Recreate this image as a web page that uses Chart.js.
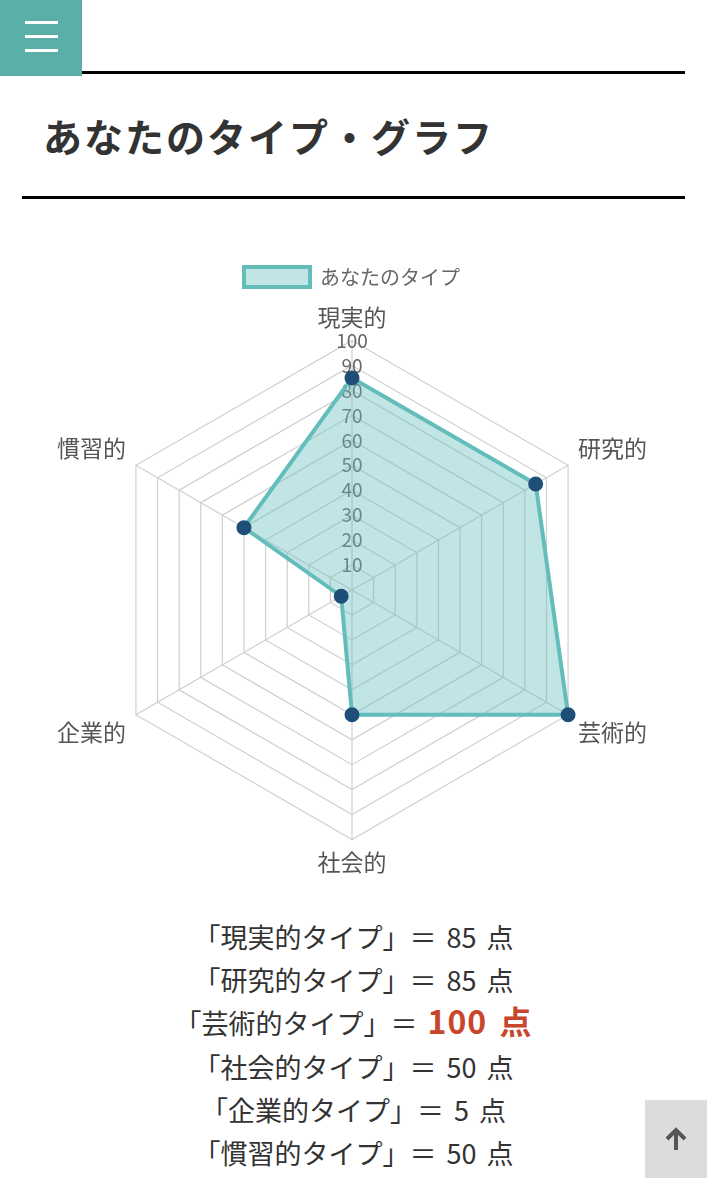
<!DOCTYPE html>
<html lang="ja">
  <head>
    <meta charset="UTF-8" />
    <title>あなたのタイプ・グラフ</title>
    <script src="https://cdn.jsdelivr.net/npm/chart.js@4.4.0/dist/chart.umd.min.js"></script>
    <style>
      body {
        margin: 0;
        width: 707px;
        height: 1200px;
        background: #fff;
        font-family: "Noto Sans CJK JP", sans-serif;
        color: #333;
        position: relative;
        overflow: hidden;
      }
      .menu {
        position: absolute;
        left: 0;
        top: 0;
        width: 82px;
        height: 76px;
        background: #5aafa9;
      }
      .menu span {
        position: absolute;
        left: 25px;
        width: 33px;
        height: 3px;
        background: #fff;
      }
      .rule {
        position: absolute;
        height: 3px;
        background: #000;
      }
      h1 {
        position: absolute;
        left: 43px;
        top: 108px;
        margin: 0;
        font-size: 39px;
        line-height: 54px;
        letter-spacing: 2px;
        font-weight: 700;
        color: #333;
      }
      .chart-box {
        position: absolute;
        left: 22px;
        top: 257px;
        width: 660px;
        height: 617px;
      }
      #results {
        position: absolute;
        left: 0;
        top: 915px;
        width: 707px;
        text-align: center;
        font-size: 27px;
        line-height: 43.2px;
        word-spacing: 4px;
        color: #333;
      }
      #results .best {
        color: #c8462c;
        font-weight: 700;
        font-size: 32px;
        line-height: 1;
        letter-spacing: 1px;
      }
      .to-top {
        position: absolute;
        left: 645px;
        top: 1100px;
        width: 62px;
        height: 78px;
        background: #dcdcdc;
      }
    </style>
  </head>
  <body>
    <div class="menu">
      <span style="top: 21px"></span>
      <span style="top: 35px"></span>
      <span style="top: 49px"></span>
    </div>
    <div class="rule" style="left: 82px; top: 71px; width: 603px"></div>
    <h1>あなたのタイプ・グラフ</h1>
    <div class="rule" style="left: 22px; top: 196px; width: 663px"></div>

    <div class="chart-box">
      <canvas id="typeChart"></canvas>
    </div>

    <div id="results"></div>

    <div class="to-top">
      <svg width="62" height="78" viewBox="0 0 62 78">
        <path d="M31 30 L31 50 M22 39 L31 30 L40 39" stroke="#555" stroke-width="4" fill="none" />
      </svg>
    </div>

    <script>
      const typeLabels = ["現実的", "研究的", "芸術的", "社会的", "企業的", "慣習的"];
      const typeScores = [85, 85, 100, 50, 5, 50];
      const seriesName = "あなたのタイプ";
      const scaleMax = 100;
      const scaleStep = 10;

      const teal = "rgb(99, 189, 187)";
      const tealFill = "rgba(99, 189, 187, 0.4)";
      const pointColor = "#1f4e78";

      Chart.defaults.font.family = "'Noto Sans CJK JP', sans-serif";

      // a bit more space between the legend and the radar
      const legendGap = {
        id: "legendGap",
        beforeInit(chart) {
          const fit = chart.legend.fit;
          chart.legend.fit = function () {
            fit.call(this);
            this.height += 9;
          };
        },
      };

      const ctx = document.getElementById("typeChart").getContext("2d");
      new Chart(ctx, {
        type: "radar",
        data: {
          labels: typeLabels,
          datasets: [
            {
              label: seriesName,
              data: typeScores,
              borderColor: teal,
              backgroundColor: tealFill,
              borderWidth: 4,
              pointBackgroundColor: pointColor,
              pointBorderColor: pointColor,
              pointRadius: 5.5,
            },
          ],
        },
        options: {
          responsive: true,
          maintainAspectRatio: false,
          animation: false,
          plugins: {
            legend: {
              labels: {
                boxWidth: 66,
                boxHeight: 20,
                color: "#666",
                font: { size: 20 },
                padding: 10,
              },
            },
            tooltip: { enabled: false },
          },
          scales: {
            r: {
              min: 0,
              max: scaleMax,
              angleLines: { color: "#cfcfcf", lineWidth: 1.2 },
              grid: { color: "#cfcfcf", lineWidth: 1.2 },
              pointLabels: {
                color: "#555",
                font: { size: 23, lineHeight: 1.0 },
                padding: 0,
              },
              ticks: {
                stepSize: scaleStep,
                color: "#666",
                font: { size: 19 },
                showLabelBackdrop: false,
              },
            },
          },
        },
        plugins: [legendGap],
      });

      // score lines under the chart
      const best = Math.max(...typeScores);
      const resultsDiv = document.getElementById("results");
      for (let i = 0; i < typeLabels.length; i++) {
        const line = document.createElement("div");
        const score = typeScores[i];
        if (score === best) {
          line.innerHTML = "「" + typeLabels[i] + "タイプ」＝ <span class=\"best\">" + score + " 点</span>";
        } else {
          line.textContent = "「" + typeLabels[i] + "タイプ」＝ " + score + " 点";
        }
        resultsDiv.appendChild(line);
      }
    </script>
  </body>
</html>
